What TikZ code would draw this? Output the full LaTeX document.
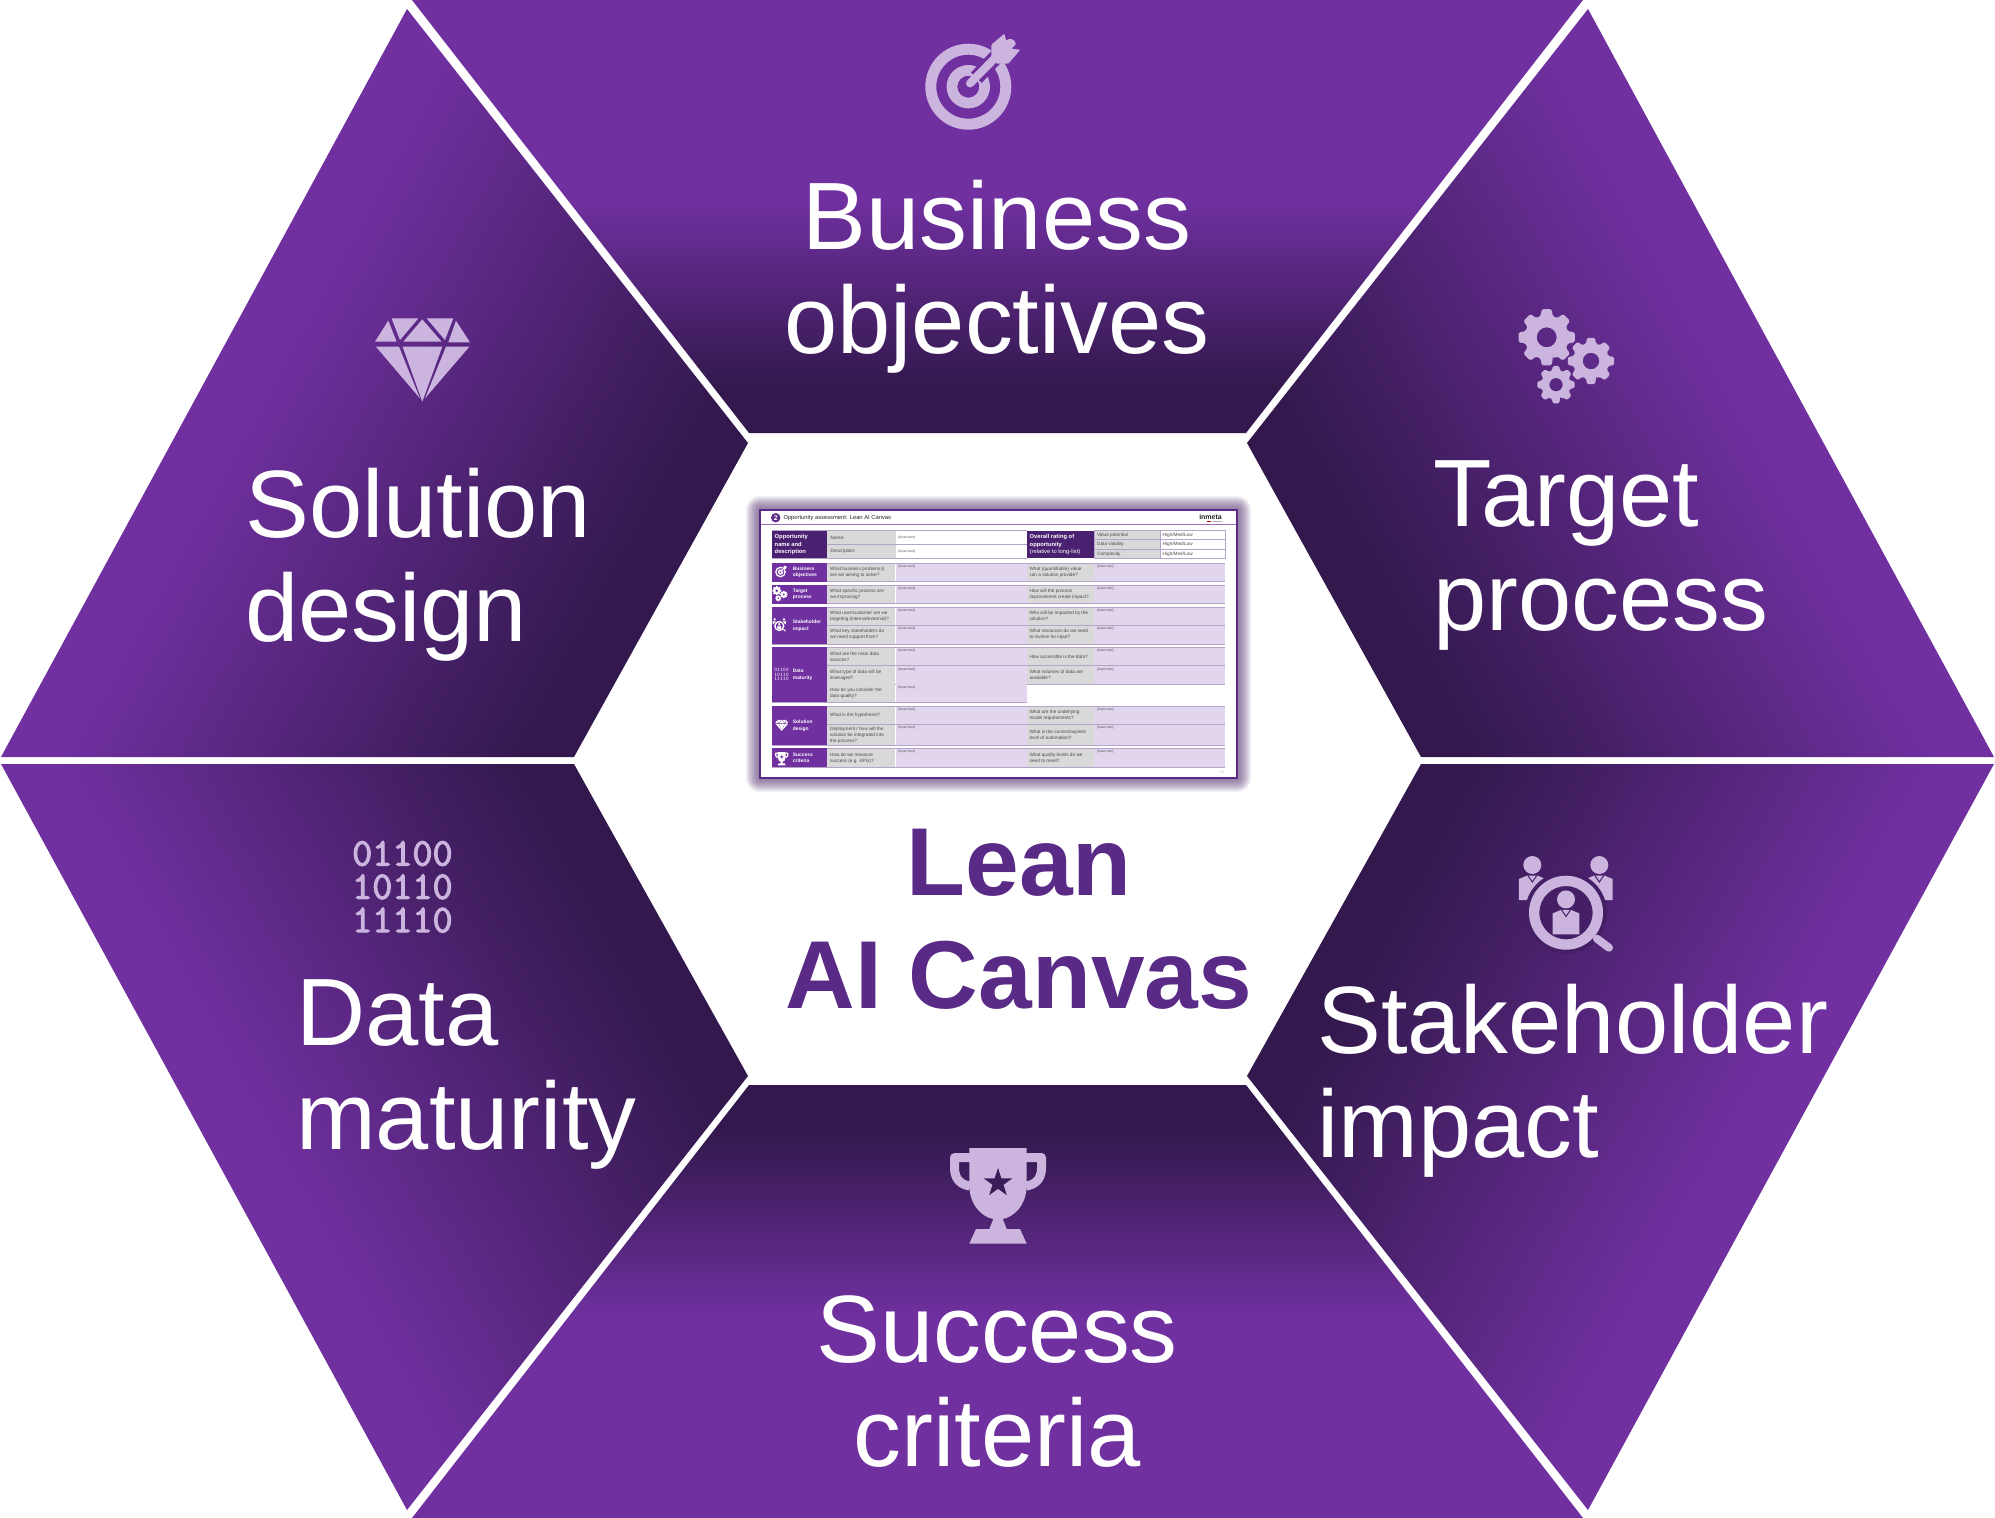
\documentclass[tikz,border=0pt]{standalone}
\usepackage{fontspec}
\setmainfont{Liberation Sans}
\newfontfamily\binfont[FakeBold=3]{Latin Modern Mono}
\newfontfamily\binfontsmall{Latin Modern Mono}
\definecolor{segpurple}{HTML}{7030A0}
\definecolor{segdark}{HTML}{32184C}
\definecolor{iconlilac}{HTML}{CBB5DF}
\definecolor{titlepurple}{HTML}{5A2A87}
\definecolor{celldark}{HTML}{4A2070}
\definecolor{cellgray}{HTML}{D9D9D9}
\definecolor{celllilac}{HTML}{E2D6EE}
\definecolor{cellrule}{HTML}{B5A3C8}
\definecolor{celltext}{HTML}{4A4A4A}
\definecolor{shadowpurple}{HTML}{5B3A7A}
\pgfdeclareverticalshading{hexgrad}{100bp}{color(0bp)=(segdark); color(25bp)=(segdark); color(30bp)=(segdark); color(52bp)=(segpurple); color(100bp)=(segpurple)}
\pgfdeclareverticalshading{hexgradside}{100bp}{color(0bp)=(segdark); color(25bp)=(segdark); color(29bp)=(segdark); color(70bp)=(segpurple); color(100bp)=(segpurple)}
\tikzset{
  biglabel/.style={inner sep=0pt,text=white,font=\fontsize{95.7}{104}\selectfont},
  leanlabel/.style={inner sep=0pt,text=titlepurple,align=center,font=\fontsize{96.5}{113}\selectfont\bfseries},
  qtext/.style={inner sep=0pt,anchor=west,align=left,text=celltext,font=\fontsize{4.7}{6}\selectfont},
  instext/.style={inner sep=0pt,anchor=west,text=celltext,font=\fontsize{3.3}{4}\selectfont},
  headtext/.style={inner sep=0pt,anchor=west,align=left,text=white,font=\fontsize{5.8}{7.3}\selectfont\bfseries},
  sidetext/.style={inner sep=0pt,anchor=west,align=left,text=white,font=\fontsize{4.9}{6.3}\selectfont\bfseries},
}
% gradient segment: #1 polygon, #2 reference point on inner edge, #3 rotation, #4 depth, #5 shading
\newcommand\hexseg[5]{%
  \begin{scope}
    \clip #1 -- cycle;
    \begin{scope}[transform canvas={shift={#2},rotate=#3}]
      \shade[shading=#5] (-1400,0) rectangle (1400,-#4);
    \end{scope}
  \end{scope}}
\newcommand\icontarget[4]{%
  \begin{scope}[shift={#1},scale=#2]
    \fill[#4,even odd rule] (0,0) circle (43) circle (32) circle (21.7) circle (11);
    \draw[#3,line width=#2*15pt] (8,-9) -- (30,-32);
    \draw[#4,line width=#2*8pt,line cap=round] (1.7,-3.3) -- (28,-30);
    \fill[#4,rounded corners=#2*1pt] (23,-42) -- (36,-53) -- (38,-46) -- (41,-48) -- (45,-47) -- (48,-43) -- (43,-38) -- (52,-37) -- (40,-23) -- (28,-23) -- (23,-30) -- cycle;
  \end{scope}}
\newcommand\onegear[7]{% x y R r hole scale color
  \begin{scope}[shift={(#1,#2)}]
    \fill[#7,even odd rule,rounded corners=#6*1.5pt] ({90-16}:#4)
      \foreach \k [evaluate=\k as \a using 90+45*\k] in {0,...,7}{
        -- ({\a-16}:#4) -- ({\a-10}:#3) -- ({\a+10}:#3) -- ({\a+16}:#4)
      } -- cycle [sharp corners] (0,0) circle (#5);
  \end{scope}}
\newcommand\icongears[3]{%
  \begin{scope}[shift={#1},scale=#2]
    \onegear{-20.3}{-22.7}{28.5}{22}{10}{#2}{#3}
    \onegear{24}{1}{23.5}{18}{8.3}{#2}{#3}
    \onegear{-11}{24.7}{19}{14.5}{6.7}{#2}{#3}
  \end{scope}}
\newcommand\oneperson[5]{% cx head-centre-y, scale, fg, bg (#3 scale)
  \begin{scope}[shift={(#1,#2)}]
    \fill[#4] (0,0) circle (9);
    \fill[#4] (-13.4,14) -- (-5,10.5) -- (5,10.5) -- (13.4,14) -- (13.4,35) -- (-13.4,35) -- cycle;
    \draw[#5,line width=#3*1pt] (-4.5,10.5) -- (0,17) -- (4.5,10.5);
  \end{scope}}
\newcommand\iconpeople[4]{%
  \begin{scope}[shift={#1},scale=#2]
    \oneperson{-33.7}{-47.7}{#2}{#4}{#3}
    \oneperson{33.3}{-47.7}{#2}{#4}{#3}
    \fill[#3] (0,0) circle (41);
    \draw[#4,line width=#2*8pt,line cap=round] (31,26) -- (43,35);
    \fill[#4,even odd rule] (0,0) circle (37) circle (26.7);
    \oneperson{0}{-13.3}{#2}{#4}{#3}
  \end{scope}}
\newcommand\icontrophy[4]{%
  \begin{scope}[shift={#1},scale=#2]
    \draw[#4,line width=#2*9pt,line join=round] (-28,-35.5) -- (-43.5,-35.5) -- (-43.5,-25) .. controls (-43.5,-12) and (-35,-8) .. (-28,-7);
    \draw[#4,line width=#2*9pt,line join=round] (28,-35.5) -- (43.5,-35.5) -- (43.5,-25) .. controls (43.5,-12) and (35,-8) .. (28,-7);
    \fill[#4] (-28.7,-45) -- (28.7,-45) -- (28.7,-8) .. controls (28.7,12) and (16,24) .. (4.7,26) -- (8.7,36) -- (22,36) -- (28.7,50.7) -- (-28.7,50.7) -- (-22,36) -- (-8.7,36) -- (-4.7,26) .. controls (-16,24) and (-28.7,12) .. (-28.7,-8) -- cycle;
    \begin{scope}[shift={(0,-10)}]
      \fill[#3] (-90:15) -- (-54:5.8) -- (-18:15) -- (18:5.8) -- (54:15) -- (90:5.8) -- (126:15) -- (162:5.8) -- (198:15) -- (234:5.8) -- cycle;
    \end{scope}
  \end{scope}}
\newcommand\icondiamond[3]{%
  \begin{scope}[shift={#1},scale=#2/3,shift={(-217,-170)}]
    \fill[#3] (125,55) -- (205,55) -- (150,120) -- cycle;
    \fill[#3] (217,58) -- (275,125) -- (160,125) -- cycle;
    \fill[#3] (230,55) -- (310,55) -- (285,120) -- cycle;
    \fill[#3] (115,62) -- (140,125) -- (75,125) -- cycle;
    \fill[#3] (318,62) -- (360,127) -- (295,127) -- cycle;
    \fill[#3] (78,140) -- (147,140) -- (210,295) -- cycle;
    \fill[#3] (158,140) -- (277,140) -- (217,305) -- cycle;
    \fill[#3] (288,140) -- (358,140) -- (225,295) -- cycle;
  \end{scope}}
% table helpers
\newcounter{qn}
\newcommand\qpair[6]{% x1 x2 x3 y1 y2 text
  \stepcounter{qn}
  \fill[cellgray] (#1,#4) rectangle (#2-0.7,#5);
  \fill[celllilac] (#2,#4) rectangle (#3,#5);
  \node[qtext] (q\theqn) at (#1+2.6,{(#4+#5)/2}) {#6};
  \node[instext] (i\theqn) at (#2+2.6,#4+3.7) {[Insert text]};}
\newcommand\qrow[4]{% y1 y2 left right
  \qpair{827.3}{895.7}{1026.7}{#1}{#2}{#3}
  \qpair{1026.7}{1094.3}{1225}{#1}{#2}{#4}
  \draw[cellrule,line width=.7pt] (771.7,#1) -- (1225,#1) (771.7,#2) -- (1225,#2);}
\newcommand\qside[4]{% y1 y2 label name
  \fill[segpurple] (771.7,#1) rectangle (827.3,#2);
  \node[sidetext] (side#4) at (792.7,{(#1+#2)/2}) {#3};}
\begin{document}
\begin{tikzpicture}[x=1pt,y=-1pt]
\useasboundingbox (0,0) rectangle (1995,1518);
\fill[white] (0,0) rectangle (1995,1518);
% six gradient segments
\hexseg{(412,0) -- (1583,0) -- (1246,433) -- (749,433)}{(997,433)}{0}{434}{hexgrad}
\hexseg{(412,1518) -- (1583,1518) -- (1246,1085) -- (749,1085)}{(997,1085)}{180}{434}{hexgrad}
\hexseg{(407,9) -- (748,443) -- (574,757) -- (1,757)}{(748,443)}{61.5}{508}{hexgradside}
\hexseg{(1588,9) -- (1247,443) -- (1421,757) -- (1994,757)}{(1247,443)}{-61.5}{508}{hexgradside}
\hexseg{(407,1510) -- (748,1076) -- (574,764) -- (1,764)}{(748,1076)}{118.5}{508}{hexgradside}
\hexseg{(1588,1510) -- (1247,1076) -- (1421,764) -- (1994,764)}{(1247,1076)}{-118.5}{508}{hexgradside}
% segment icons
\icontarget{(968.3,86.7)}{1}{segpurple}{iconlilac}
\icongears{(1567,360)}{1}{iconlilac}
\iconpeople{(1566,912.7)}{1}{segpurple!30!segdark}{iconlilac}
\icontrophy{(998,1193)}{1}{segpurple!15!segdark}{iconlilac}
\icondiamond{(422.3,356.7)}{1}{iconlilac}
\node[inner sep=0pt,anchor=north west,align=left,text=iconlilac,font=\fontsize{39}{33.3}\selectfont\binfont] (binary) at (352,841) {01100\\10110\\11110};
% segment labels
\node[biglabel,anchor=north,align=center] (business) at (997,180) {Business\\objectives};
\node[biglabel,anchor=north west,align=left] (target) at (1433,460) {Target\\process};
\node[biglabel,anchor=north west,align=left] (stakeholder) at (1317,984) {Stakeholder\\impact};
\node[biglabel,anchor=north,align=center] (success) at (997,1295) {Success\\criteria};
\node[biglabel,anchor=north west,align=left] (data) at (296,979) {Data\\maturity};
\node[biglabel,anchor=north west,align=left] (solution) at (245,468) {Solution\\design};
\node[leanlabel,anchor=north] (lean) at (1019,829) {Lean\\AI Canvas};
% canvas page with soft shadow
\foreach \e in {14,13,...,1}{
  \fill[shadowpurple,opacity=.07,rounded corners=\e pt] (760-\e,510-\e) rectangle (1237+\e,778+\e);
}
\fill[white,draw=titlepurple,line width=2pt] (760,510) rectangle (1237,778);
\draw[segpurple!70!white,line width=.9pt] (761,524.3) -- (1236,524.3);
\node[circle,fill=titlepurple,text=white,inner sep=0pt,minimum size=9.4pt,font=\fontsize{7}{7}\selectfont\bfseries] (num) at (775.7,517.7) {2};
\node[inner sep=0pt,anchor=west,text=black!85,font=\fontsize{5.8}{6}\selectfont] (ctitle) at (783.3,517.7) {Opportunity assessment: Lean AI Canvas};
\node[inner sep=0pt,anchor=base east,text=black!85,font=\fontsize{7}{7}\selectfont\bfseries] (inmeta) at (1222,519.3) {inmeta};
\fill[red!70!black] (1207,521.3) rectangle (1210.5,522.3);
\fill[black!30] (1211.5,521.3) rectangle (1222,522.3);
\node[inner sep=0pt,text=black!18,font=\fontsize{3.8}{4}\selectfont] (pageno) at (1222,772) {50};
% opportunity header block
\fill[celldark] (771.7,530.7) rectangle (827.3,558.3);
\fill[cellgray] (827.3,530.7) rectangle (895.7,558.3);
\draw[cellrule,line width=.7pt] (827.3,544.3) -- (895.7,544.3);
\draw[cellrule,line width=.7pt] (771.7,530.7) -- (1026.7,530.7) (771.7,558.3) -- (1026.7,558.3) (895.7,544.3) -- (1026.7,544.3);
\node[headtext] (opp) at (774.5,544.5) {Opportunity\\name and\\description};
\node[qtext] (hname) at (830.5,537.7) {Name:};
\node[qtext] (hdesc) at (830.5,551.3) {Description:};
\node[instext] (hi1) at (898.3,537.7) {[Insert text]};
\node[instext] (hi2) at (898.3,551.3) {[Insert text]};
\fill[celldark] (1026.7,530.7) rectangle (1094.3,558.3);
\node[inner sep=0pt,anchor=west,align=left,text=white,font=\fontsize{5.8}{7.3}\selectfont] (rating) at (1029.5,544.5) {\textbf{Overall rating of}\\\textbf{opportunity}\\(relative to long-list)};
\fill[cellgray] (1094.3,530.7) rectangle (1160,558.3);
\draw[cellrule,line width=.7pt] (1094.3,530.7) rectangle (1225,558.3);
\draw[cellrule,line width=.7pt] (1094.3,539.7) -- (1225,539.7) (1094.3,549.3) -- (1225,549.3) (1160,530.7) -- (1160,558.3);
\node[qtext] (v1) at (1097,535.2) {Value potential};
\node[qtext] (v2) at (1097,544) {Data viability};
\node[qtext] (v3) at (1097,553.8) {Complexity};
\node[qtext] (h1) at (1162.5,535.2) {High/Med/Low};
\node[qtext] (h2) at (1162.5,544) {High/Med/Low};
\node[qtext] (h3) at (1162.5,553.8) {High/Med/Low};
% question rows
\qrow{563.3}{581.7}{What business problem(s)\\are we aiming to solve?}{What (quantifiable) value\\can a solution provide?}
\qside{563.3}{581.7}{Business\\objectives}{a}
\qrow{585.3}{603.7}{What specific process are\\we improving?}{How will the process\\improvement create impact?}
\qside{585.3}{603.7}{Target\\process}{b}
\qrow{607.3}{625.3}{What user/customer are we\\targeting (internal/external)?}{Who will be impacted by the\\solution?}
\qrow{625.3}{644}{What key stakeholders do\\we need support from?}{What resources do we need\\to involve for input?}
\qside{607.3}{644}{Stakeholder\\impact}{c}
\qrow{647.3}{665.7}{What are the main data\\sources?}{How accessible is the data?}
\qrow{665.7}{684}{What type of data will be\\leveraged?}{What volumes of data are\\available?}
\qpair{827.3}{895.7}{1026.7}{684}{702.3}{How do you consider the\\data quality?}
\draw[cellrule,line width=.7pt] (771.7,702.3) -- (1026.7,702.3);
\qside{647.3}{702.3}{Data\\maturity}{d}
\qrow{706}{724.3}{What is the hypothesis?}{What are the underlying\\model requirements?}
\qrow{724.3}{745.3}{Deployment / how will the\\solution be integrated into\\the process?}{What is the current/aspired\\level of automation?}
\qside{706}{745.3}{Solution\\design}{e}
\qrow{748.3}{767.3}{How do we measure\\success (e.g. KPIs)?}{What quality levels do we\\need to meet?}
\qside{748.3}{767.3}{Success\\criteria}{f}
% small icons in the table
\icontarget{(780.5,572)}{.125}{segpurple}{white}
\icongears{(780,594.3)}{.16}{white}
\iconpeople{(779.3,626)}{.14}{segpurple}{white}
\node[inner sep=0pt,align=left,text=white,font=\fontsize{5.4}{4.6}\selectfont\binfontsmall] (binsmall) at (781.5,674.5) {01100\\10110\\11110};
\icondiamond{(781.7,725)}{.135}{white}
\icontrophy{(781.7,758.3)}{.14}{segpurple}{white}
\end{tikzpicture}
\end{document}
